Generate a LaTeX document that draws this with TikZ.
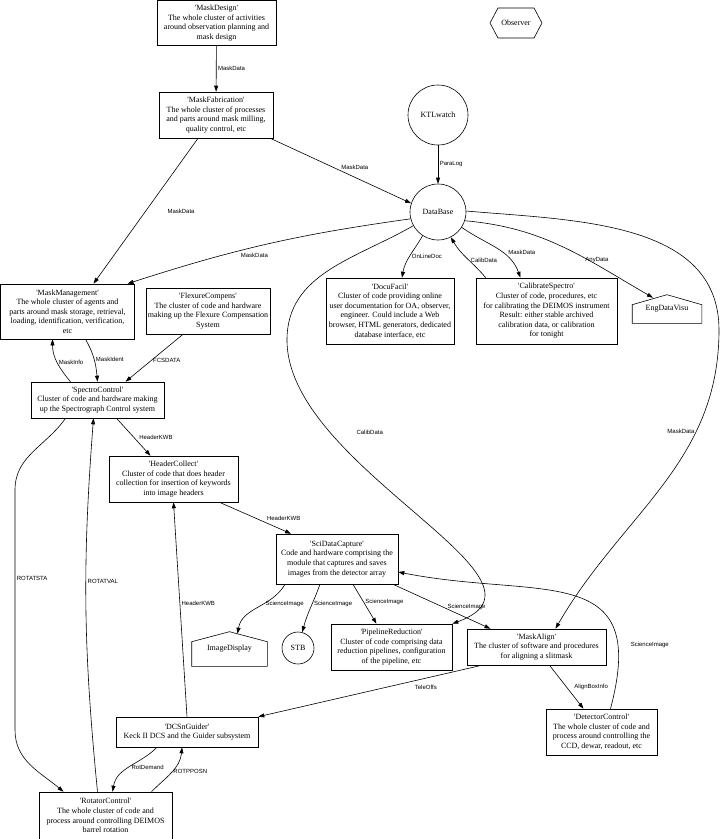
\documentclass[tikz,border=0pt]{standalone}
\usepackage{fontspec}
\setmainfont{Liberation Serif}
\newfontfamily\labfont{Liberation Sans}
\usepackage{tikz}
\usetikzlibrary{arrows.meta,positioning,shapes.symbols}
\newcommand{\nm}[1]{\textquotesingle#1\textquotesingle}

\begin{document}
\begin{tikzpicture}[x=1pt,y=-1pt,line width=0.6pt,>={Triangle[length=6pt,width=4pt]},
  box/.style={draw,rectangle,align=center,inner sep=1pt,font=\fontsize{8}{9.6}\selectfont},
  blob/.style={draw,circle,inner sep=1pt,font=\fontsize{8}{9.6}\selectfont},
  hexa/.style={draw,signal,signal to=east and west,signal pointer angle=124,inner sep=1pt,font=\fontsize{8}{9.6}\selectfont},
  house/.style={inner sep=1pt,font=\fontsize{8}{9.6}\selectfont,
    append after command={\pgfextra{\draw (\tikzlastnode.south west) -- ([yshift=-10pt]\tikzlastnode.north west) -- (\tikzlastnode.north) -- ([yshift=-10pt]\tikzlastnode.north east) -- (\tikzlastnode.south east) -- cycle;}}},
  lab/.style={font=\labfont\fontsize{6}{7}\selectfont,inner sep=1.5pt}]
\useasboundingbox (0,0) rectangle (723,839);

% ---------- top rows ----------
\node[box,minimum width=119pt,minimum height=45pt] (design) at (216.5,23) {\nm{MaskDesign}\\ The whole cluster of activities\\ around observation planning and\\ mask design};
\node[hexa,minimum width=52pt,minimum height=30pt] (observer) at (516,23) {Observer};
\node[box,minimum width=114pt,minimum height=46pt] (fab) at (216,115) {\nm{MaskFabrication}\\ The whole cluster of processes\\ and parts around mask milling,\\ quality control, etc};
\node[blob,minimum size=60pt] (ktl) at (438,115) {KTLwatch};
\node[blob,minimum size=56pt] (db) at (438,212) {DataBase};

% ---------- rank below the database ----------
\node[box,minimum width=134pt,minimum height=55pt] (maskman) at (67.5,311.5) {\nm{MaskManagement}\\ The whole cluster of agents and\\ parts around mask storage, retrieval,\\ loading, identification, verification,\\ etc};
\node[box,minimum width=124pt,minimum height=46pt] (flex) at (208,311) {\nm{FlexureCompens}\\ The cluster of code and hardware\\ making up the Flexure Compensation\\ System};
\node[box,minimum width=128pt,minimum height=66pt] (docu) at (390,311) {\nm{DocuFacil}\\ Cluster of code providing online\\ user documentation for OA, observer,\\ engineer. Could include a Web\\ browser, HTML generators, dedicated\\ database interface, etc};
\node[box,minimum width=141pt,minimum height=66pt] (calib) at (546.5,311) {\nm{CalibrateSpectro}\\ Cluster of code, procedures, etc\\ for calibrating the DEIMOS instrument\\ Result: either stable archived\\ calibration data, or calibration\\ for tonight};
\node[house,minimum width=69pt,minimum height=28pt] (engvisu) at (667,309) {EngDataVisu};

% ---------- spectrograph side ----------
\node[box,minimum width=133pt,minimum height=36pt] (spectro) at (97.5,400) {\nm{SpectroControl}\\ Cluster of code and hardware making\\ up the Spectrograph Control system};
\node[box,minimum width=129pt,minimum height=46pt] (header) at (173.5,479) {\nm{HeaderCollect}\\ Cluster of code that does header\\ collection for insertion of keywords\\ into image headers};
\node[box,minimum width=122pt,minimum height=50pt] (scidata) at (337,559) {\nm{SciDataCapture}\\ Code and hardware comprising the\\ module that captures and saves\\ images from the detector array};
\node[house,minimum width=75pt,minimum height=34pt] (imgdisp) at (229.5,649) {ImageDisplay};
\node[blob,minimum size=32pt] (stb) at (298,648) {STB};
\node[box,minimum width=121pt,minimum height=46pt] (pipe) at (391.5,647) {\nm{PipelineReduction}\\ Cluster of code comprising data\\ reduction pipelines, configuration\\ of the pipeline, etc};
\node[box,minimum width=139pt,minimum height=36pt] (align) at (536.5,647) {\nm{MaskAlign}\\ The cluster of software and procedures\\ for aligning a slitmask};
\node[box,minimum width=142pt,minimum height=30pt] (dcs) at (187,732) {\nm{DCSnGuider}\\ Keck II DCS and the Guider subsystem};
\node[box,minimum width=111pt,minimum height=46pt] (detector) at (601.5,732) {\nm{DetectorControl}\\ The whole cluster of code and\\ process around controlling the\\ CCD, dewar, readout, etc};
\node[box,minimum width=133pt,minimum height=47pt] (rotator) at (105.5,815.5) {\nm{RotatorControl}\\ The whole cluster of code and\\ process around controlling DEIMOS\\ barrel rotation};

% ---------- mask data flow ----------
\draw[->] (design) -- node[lab,right]{MaskData} (fab);
\draw[->] ([xshift=-3pt]fab.south east) -- node[lab,pos=0.6,above=6pt]{MaskData} (db.162);
\draw[->] ([xshift=-18pt]fab.south) -- node[lab,midway,right=20pt]{MaskData} ([xshift=26pt]maskman.north);
\draw[->] (ktl) -- node[lab,right]{ParaLog} (db);

% ---------- out of the database ----------
\draw[->] (db.194) to[bend right=5] node[lab,pos=0.55,below=4pt]{MaskData} ([xshift=60pt]maskman.north);
\draw[->] (db.237) to[out=240,in=80] node[lab,pos=0.5,right]{OnLineDoc} ([xshift=12pt]docu.north);
\draw[->] ([xshift=10pt]calib.north west) to[out=130,in=-60] node[lab,pos=0.45,right]{CalibData} (db.297);
\draw[->] (db.327) to[out=-35,in=110] node[lab,pos=0.6,right=4pt]{MaskData} ([xshift=-26pt]calib.north);
\draw[->] (db.342) to[out=-5,in=150] node[lab,pos=0.7,above]{AnyData} ([xshift=-14pt,yshift=-3pt]engvisu.north);
\draw[->] (db.2) to[out=-5,in=90] (719,330) to[out=-90,in=60] node[lab,pos=0.3,left]{MaskData} ([xshift=19pt]align.north);
\draw[->] (db.209) to[out=210,in=90] (287,340) to[out=-90,in=20] node[lab,pos=0.25,right=25pt]{CalibData} (pipe.north east);

% ---------- spectrograph control ----------
\draw[->] ([xshift=18pt]maskman.south) to[out=-60,in=95] node[lab,pos=0.5,right]{MaskIdent} (spectro.north);
\draw[->] ([xshift=-27pt]spectro.north) to[out=130,in=-90] node[lab,pos=0.5,right]{MaskInfo} ([xshift=-15pt]maskman.south);
\draw[->] ([xshift=-25pt]flex.south) -- node[lab,pos=0.55,right]{FCSDATA} ([xshift=28pt]spectro.north);
\draw[->] ([xshift=19pt]spectro.south) -- node[lab,pos=0.5,right=4pt]{HeaderKWB} ([xshift=-23pt]header.north);
\draw[->] ([xshift=46pt]header.south) -- node[lab,pos=0.5,right=10pt]{HeaderKWB} ([xshift=-46pt]scidata.north);
\draw[->] (dcs.north) -- node[lab,pos=0.53,right]{HeaderKWB} (header.south);

% ---------- science images ----------
\draw[->] ([xshift=-52pt]scidata.south) to[out=-120,in=80] node[lab,pos=0.4,right]{ScienceImage} ([xshift=8pt,yshift=-2pt]imgdisp.north);
\draw[->] ([xshift=-17pt]scidata.south) to[out=-110,in=75] node[lab,pos=0.4,right]{ScienceImage} (stb.75);
\draw[->] ([xshift=16pt]scidata.south) -- node[lab,pos=0.45,right]{ScienceImage} ([xshift=-15pt]pipe.north);
\draw[->] ([xshift=56pt]scidata.south) -- node[lab,midway,right=4pt]{ScienceImage} ([xshift=-46pt]align.north);
\draw[->] ([xshift=9pt]detector.north) .. controls (650,560) and (540,600) .. node[lab,pos=0.18,right=11pt]{ScienceImage} ([yshift=-13pt]scidata.east);
\draw[->] ([xshift=13pt]align.south) -- node[lab,pos=0.5,right=6pt]{AlignBoxInfo} ([xshift=-18pt]detector.north);
\draw[->] ([xshift=15pt]align.south west) -- node[lab,pos=0.25,below=5pt]{TeleOffs} (dcs.north east);

% ---------- rotator loop ----------
\draw[->] ([xshift=-32pt]spectro.south) to[out=-125,in=90] (15,490) -- node[lab,pos=0.37,right]{ROTATSTA} (15,730) to[out=-90,in=140] ([xshift=-42pt]rotator.north);
\draw[->] ([xshift=-8pt]rotator.north) to[bend left=5] node[lab,pos=0.57,right]{ROTATVAL} ([xshift=-4pt]spectro.south);
\draw[->] ([xshift=-30pt]dcs.south) to[out=-135,in=80] node[lab,pos=0.5,right]{RotDemand} ([xshift=7pt]rotator.north);
\draw[->] ([xshift=46pt]rotator.north) to[out=45,in=-95] node[lab,pos=0.5,right]{ROTPPOSN} ([xshift=-5pt]dcs.south);
\end{tikzpicture}
\end{document}
